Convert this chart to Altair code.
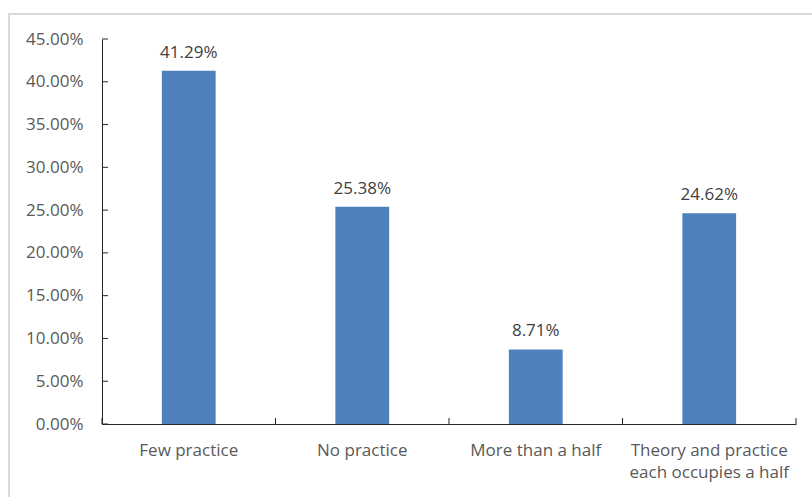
import altair as alt
import pandas as pd

categories = ["Few practice", "No practice", "More than a half",
              "Theory and practice each occupies a half"]
values = [0.4129, 0.2538, 0.0871, 0.2462]
y_ticks = [0.0, 0.05, 0.10, 0.15, 0.20, 0.25, 0.30, 0.35, 0.40, 0.45]

df = pd.DataFrame({"cat": categories, "val": values})
tick_df = pd.DataFrame({"v": y_ticks})

W, H = 694, 385
FONT = "Open Sans"
FS = 17
BLUE = "#4F81BD"
AXIS = "#262626"

x_scale = alt.Scale(domain=categories, paddingInner=0, paddingOuter=0)
y_scale = alt.Scale(domain=[0, 0.45], nice=False)

label_expr = ("datum.label == 'Theory and practice each occupies a half' ? "
              "['Theory and practice', 'each occupies a half'] : datum.label")

bars = alt.Chart(df).mark_bar(color=BLUE, width=alt.RelativeBandSize(0.31)).encode(
    x=alt.X("cat:N", scale=x_scale, sort=categories, title=None,
            axis=alt.Axis(labelAngle=0, ticks=False, domainColor=AXIS, domainWidth=1,
                          labelColor="#595959", labelFont=FONT, labelFontSize=FS,
                          labelPadding=18, labelLineHeight=22, labelExpr=label_expr,
                          labelLimit=300)),
    y=alt.Y("val:Q", scale=y_scale, title=None,
            axis=alt.Axis(values=y_ticks, format=".2%", ticks=False, domainColor=AXIS,
                          domainWidth=1, grid=False, labelColor="#595959",
                          labelFont=FONT, labelFontSize=FS, labelPadding=19)),
)

text = alt.Chart(df).mark_text(dy=-13, baseline="alphabetic", font=FONT, fontSize=FS,
                               color="#404040").encode(
    x=alt.X("cat:N", scale=x_scale, sort=categories),
    y=alt.Y("val:Q", scale=y_scale),
    text=alt.Text("val:Q", format=".2%"),
)

ytick = alt.Chart(tick_df).mark_rule(color=AXIS, strokeWidth=1).encode(
    y=alt.Y("v:Q", scale=y_scale),
    x=alt.value(0), x2=alt.value(6),
)

xtick = alt.Chart(df).mark_rule(color=AXIS, strokeWidth=1).encode(
    x=alt.X("cat:N", scale=x_scale, sort=categories, bandPosition=0),
    y=alt.value(H), y2=alt.value(H - 6),
)
xtick_end = alt.Chart(df.tail(1)).mark_rule(color=AXIS, strokeWidth=1).encode(
    x=alt.X("cat:N", scale=x_scale, sort=categories, bandPosition=1),
    y=alt.value(H), y2=alt.value(H - 6),
)

border = alt.Chart(pd.DataFrame({"a": [0]})).mark_rect(
    fill=None, stroke="#D9D9D9", strokeWidth=2, clip=False).encode(
    x=alt.value(-93), x2=alt.value(W + 60),
    y=alt.value(-25), y2=alt.value(H + 120),
)

chart = alt.layer(border, bars, text, ytick, xtick, xtick_end).properties(
    width=W, height=H,
    autosize=alt.AutoSizeParams(type="none"),
    padding={"left": 102, "top": 39, "right": 16, "bottom": 73},
    background="white",
).configure_view(stroke=None)

chart.save("out.html", embed_options={"renderer": "svg", "actions": False})
